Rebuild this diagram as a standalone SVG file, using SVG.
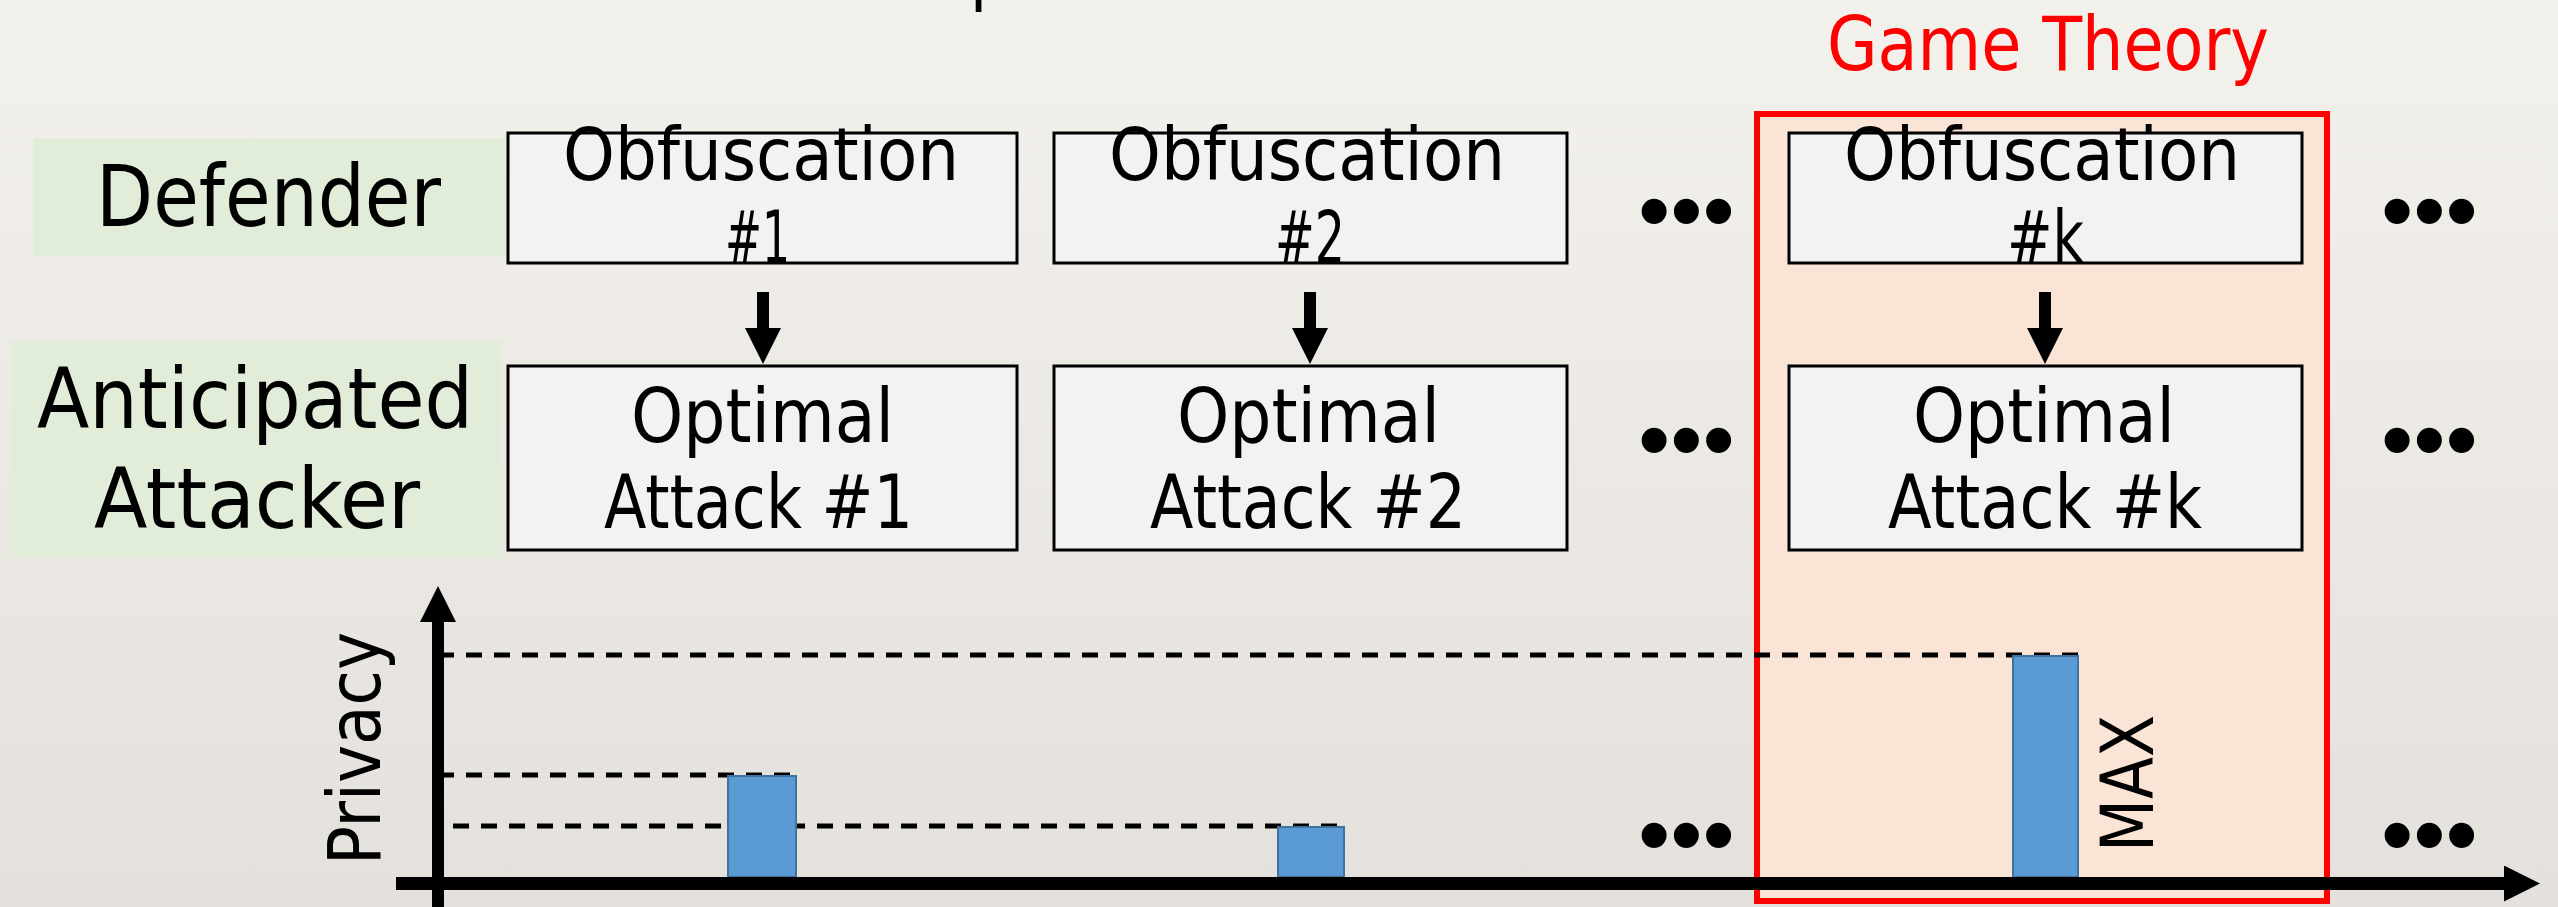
<svg xmlns="http://www.w3.org/2000/svg" width="2558" height="907" viewBox="0 0 2558 907">
<defs>
<linearGradient id="bg" x1="0" y1="0" x2="0" y2="1">
<stop offset="0" stop-color="#F3F1EC"/>
<stop offset="1" stop-color="#E4E1DC"/>
</linearGradient>
<marker id="ah" markerUnits="userSpaceOnUse" markerWidth="36" markerHeight="36" viewBox="0 0 35 35" refX="0" refY="17.5" orient="auto">
<path d="M0,0 L35,17.5 L0,35 z" fill="#000"/>
</marker>
<style>
.t{font-family:"DejaVu Sans Condensed","DejaVu Sans",sans-serif;font-stretch:condensed;fill:#000}
.box{fill:#F2F2F2;stroke:#000;stroke-width:3}
.lbl{fill:#E2EDD9}
.dash{stroke:#000;stroke-width:5;stroke-dasharray:16 12;fill:none}
.bar{fill:#5B9BD5;stroke:#41719C;stroke-width:2}
.dots{font-family:"Liberation Sans",Arial,sans-serif;font-size:92px;fill:#000}
.arr{stroke:#000;stroke-width:12;fill:none}
</style>
</defs>
<rect width="2558" height="907" fill="url(#bg)"/>
<text class="t" x="970" y="-2" font-size="70">p</text>

<g id="game-theory">
<rect x="1757" y="114" width="570" height="787" fill="#FAE4D6" stroke="#FF0000" stroke-width="6"/>
<text class="t" x="1827" y="70" font-size="75" textLength="442" lengthAdjust="spacingAndGlyphs" style="fill:#FF0000">Game Theory</text>
</g>

<g id="label-defender">
<rect class="lbl" x="33" y="138" width="473" height="118"/>
<text class="t" x="96" y="226" font-size="86" textLength="345" lengthAdjust="spacingAndGlyphs">Defender</text>
</g>
<g id="label-attacker">
<rect class="lbl" x="12" y="341" width="489" height="216"/>
<text class="t" x="37" y="428" font-size="84" textLength="436" lengthAdjust="spacingAndGlyphs">Anticipated</text>
<text class="t" x="94" y="528" font-size="84" textLength="326" lengthAdjust="spacingAndGlyphs">Attacker</text>
</g>

<g id="obf1">
<rect class="box" x="508" y="133" width="509" height="130"/>
<text class="t" x="563" y="180" font-size="73" textLength="396" lengthAdjust="spacingAndGlyphs">Obfuscation</text>
<text class="t" x="725" y="263" font-size="73" textLength="65" lengthAdjust="spacingAndGlyphs">#1</text>
</g>
<g id="obf2">
<rect class="box" x="1054" y="133" width="513" height="130"/>
<text class="t" x="1109" y="180" font-size="73" textLength="396" lengthAdjust="spacingAndGlyphs">Obfuscation</text>
<text class="t" x="1275" y="263" font-size="73" textLength="70" lengthAdjust="spacingAndGlyphs">#2</text>
</g>
<g id="obfk">
<rect class="box" x="1789" y="133" width="513" height="130"/>
<text class="t" x="1844" y="180" font-size="73" textLength="396" lengthAdjust="spacingAndGlyphs">Obfuscation</text>
<text class="t" x="2007" y="263" font-size="73" textLength="77" lengthAdjust="spacingAndGlyphs">#k</text>
</g>

<g id="att1">
<rect class="box" x="508" y="366" width="509" height="184"/>
<text class="t" x="631" y="442" font-size="75" textLength="263" lengthAdjust="spacingAndGlyphs">Optimal</text>
<text class="t" x="604" y="528" font-size="75" textLength="309" lengthAdjust="spacingAndGlyphs">Attack #1</text>
</g>
<g id="att2">
<rect class="box" x="1054" y="366" width="513" height="184"/>
<text class="t" x="1177" y="442" font-size="75" textLength="263" lengthAdjust="spacingAndGlyphs">Optimal</text>
<text class="t" x="1150" y="528" font-size="75" textLength="316" lengthAdjust="spacingAndGlyphs">Attack #2</text>
</g>
<g id="attk">
<rect class="box" x="1789" y="366" width="513" height="184"/>
<text class="t" x="1913" y="442" font-size="75" textLength="262" lengthAdjust="spacingAndGlyphs">Optimal</text>
<text class="t" x="1888" y="528" font-size="75" textLength="314" lengthAdjust="spacingAndGlyphs">Attack #k</text>
</g>

<g id="ellipses">
<text class="dots" x="1638" y="242">•••</text>
<text class="dots" x="2381" y="242">•••</text>
<text class="dots" x="1638" y="471">•••</text>
<text class="dots" x="2381" y="471">•••</text>
<text class="dots" x="1638" y="866">•••</text>
<text class="dots" x="2381" y="866">•••</text>
</g>

<g id="chart">
<line class="dash" x1="438" y1="655" x2="2078" y2="655"/>
<line class="dash" x1="438" y1="775" x2="796" y2="775"/>
<line class="dash" x1="453" y1="826" x2="1341" y2="826"/>
<rect id="bar1" class="bar" x="728" y="776" width="68" height="101"/>
<rect id="bar2" class="bar" x="1278" y="827" width="66" height="50"/>
<rect id="bar3" class="bar" x="2013" y="656" width="65" height="221"/>
<text class="t" transform="translate(380,865) rotate(-90)" font-size="73" textLength="233" lengthAdjust="spacingAndGlyphs">Privacy</text>
<text class="t" transform="translate(2153,852) rotate(-90)" font-size="73" textLength="137" lengthAdjust="spacingAndGlyphs">MAX</text>
</g>

<g id="connectors">
<line class="arr" x1="763" y1="292" x2="763" y2="328" marker-end="url(#ah)"/>
<line class="arr" x1="1310" y1="292" x2="1310" y2="328" marker-end="url(#ah)"/>
<line class="arr" x1="2045" y1="292" x2="2045" y2="328" marker-end="url(#ah)"/>
<line class="arr" x1="438" y1="907" x2="438" y2="622" marker-end="url(#ah)"/>
<line stroke="#000" stroke-width="13" x1="396" y1="883.5" x2="2504" y2="883.5" marker-end="url(#ah)"/>
</g>
</svg>
